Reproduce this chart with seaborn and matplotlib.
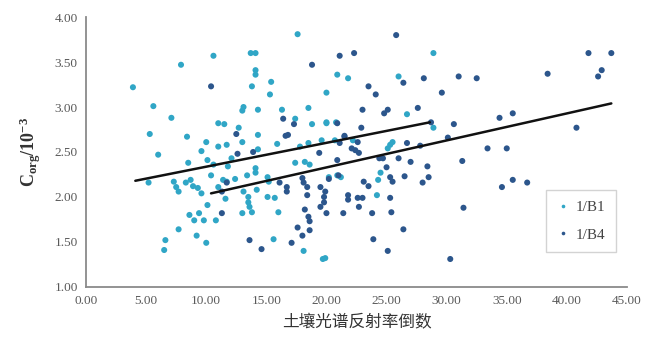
import pandas as pd
import matplotlib
matplotlib.use("Agg")
import matplotlib.pyplot as plt
import seaborn as sns


# 1/B1 points (x = reciprocal reflectance, y = Corg / 10^-3)
b1_x = [3.9, 7.9, 10.6, 5.6, 7.1, 5.3, 8.4, 6.0, 10.0, 9.6, 11.0, 11.5, 11.0, 11.7, 12.7,
        10.1, 10.6, 12.1, 11.8, 8.5, 5.2, 7.3, 7.5, 7.7, 8.3, 8.7, 8.9, 9.3, 9.6, 10.4,
        11.0, 11.4, 10.1, 8.6, 9.0, 9.4, 9.8, 10.8, 7.7, 9.2, 10.0, 6.6, 6.5, 13.7, 14.1,
        14.1, 14.1, 15.4, 13.8, 15.3, 17.6, 13.1, 13.0, 14.3, 16.3, 17.4, 18.5, 18.8, 20.0,
        14.3, 13.0, 15.9, 18.5, 19.6, 22.2, 14.3, 17.8, 17.4, 18.2, 18.6, 11.7, 12.4, 13.4,
        14.1, 14.1, 15.1, 15.2, 13.1, 13.5, 13.5, 14.2, 15.1, 15.7, 11.6, 13.0, 13.6, 13.8,
        16.0, 15.6, 18.1, 19.9, 20.9, 21.8, 20.0, 26.0, 26.7, 20.0, 20.8, 28.9, 28.9, 20.7,
        25.3, 25.5, 25.1, 20.9, 21.2, 20.2, 24.5, 24.3, 24.2, 19.7]
b1_y = [3.22, 3.47, 3.57, 3.01, 2.88, 2.70, 2.67, 2.47, 2.61, 2.51, 2.82, 2.81, 2.56, 2.58, 2.77,
        2.41, 2.36, 2.43, 2.34, 2.38, 2.16, 2.17, 2.11, 2.06, 2.16, 2.19, 2.12, 2.10, 2.04, 2.24,
        2.11, 2.19, 1.91, 1.80, 1.74, 1.82, 1.74, 1.74, 1.64, 1.57, 1.49, 1.52, 1.41, 3.60, 3.60,
        3.41, 3.36, 3.28, 3.23, 3.14, 3.81, 3.00, 2.96, 2.97, 2.97, 2.87, 2.99, 2.81, 2.82,
        2.69, 2.61, 2.59, 2.60, 2.63, 2.63, 2.53, 2.56, 2.38, 2.39, 2.36, 2.17, 2.20, 2.24,
        2.32, 2.27, 2.22, 2.17, 2.06, 2.00, 1.94, 2.08, 2.00, 1.99, 1.98, 1.82, 1.89, 1.83,
        1.83, 1.53, 1.40, 1.32, 3.36, 3.32, 3.16, 3.34, 2.92, 2.83, 2.83, 3.60, 2.77, 2.63,
        2.58, 2.61, 2.54, 2.24, 2.22, 2.22, 2.27, 2.19, 2.02, 1.31]

# 1/B4 points
b4_x = [10.4, 25.8, 18.8, 21.1, 22.3, 16.4, 17.3, 20.9, 12.5, 16.6, 16.8, 21.5, 21.1, 13.9, 12.6,
        20.9, 19.4, 16.1, 16.7, 16.7, 18.0, 18.1, 18.4, 18.4, 19.5, 19.9, 20.2, 21.0, 21.8, 21.8,
        22.6, 11.3, 11.3, 18.2, 19.5, 20.0, 18.5, 18.6, 21.4, 17.6, 18.6, 18.0, 13.6, 17.1, 14.6,
        11.7, 31.0, 32.5, 38.4, 41.8, 43.7, 42.9, 42.6, 26.4, 28.1, 23.5, 24.1, 29.6, 23.0, 24.8,
        25.1, 27.6, 34.4, 35.5, 22.9, 28.7, 30.6, 40.8, 21.5, 22.6, 26.7, 27.8, 30.1, 33.4, 35.0,
        22.1, 22.4, 22.7, 24.4, 24.7, 26.0, 27.0, 28.4, 31.3, 25.0, 23.1, 23.5, 25.3, 25.5, 26.5,
        28.5, 28.0, 34.6, 35.5, 36.7, 19.8, 19.8, 23.0, 25.3, 22.7, 23.8, 25.4, 31.4, 26.4, 23.9,
        25.1, 30.3]
b4_y = [3.23, 3.80, 3.47, 3.57, 3.60, 2.87, 2.81, 2.82, 2.70, 2.68, 2.69, 2.68, 2.60, 2.50, 2.48,
        2.41, 2.49, 2.16, 2.11, 2.06, 2.21, 2.16, 2.11, 2.02, 2.11, 2.06, 2.20, 2.24, 2.02, 1.97,
        1.99, 2.06, 1.82, 1.86, 1.89, 1.82, 1.78, 1.73, 1.82, 1.66, 1.63, 1.57, 1.52, 1.49, 1.42,
        2.16, 3.34, 3.32, 3.37, 3.60, 3.60, 3.41, 3.34, 3.27, 3.32, 3.23, 3.14, 3.16, 2.97, 2.93,
        2.97, 2.99, 2.88, 2.93, 2.77, 2.83, 2.81, 2.77, 2.67, 2.61, 2.60, 2.57, 2.66, 2.54, 2.54,
        2.54, 2.52, 2.49, 2.43, 2.43, 2.43, 2.39, 2.34, 2.40, 2.33, 2.17, 2.12, 2.22, 2.17, 2.23,
        2.22, 2.16, 2.11, 2.19, 2.16, 2.00, 1.94, 1.99, 1.99, 1.89, 1.82, 1.83, 1.88, 1.64, 1.53,
        1.40, 1.31]

# trend line end points
trend_b1_x = [4.1, 28.6]
trend_b1_y = [2.18, 2.83]
trend_b4_x = [10.4, 43.7]
trend_b4_y = [2.04, 3.04]

x_ticks = [0, 5, 10, 15, 20, 25, 30, 35, 40, 45]
y_ticks = [1.0, 1.5, 2.0, 2.5, 3.0, 3.5, 4.0]

sns.set_style("white")
plt.rcParams["font.family"] = ["Liberation Serif", "Noto Sans CJK SC"]
plt.rcParams["mathtext.fontset"] = "custom"
plt.rcParams["mathtext.rm"] = "Liberation Serif"
plt.rcParams["mathtext.bf"] = "Liberation Serif:bold"

df = pd.concat([
    pd.DataFrame({"x": b1_x, "y": b1_y, "series": "1/B1"}),
    pd.DataFrame({"x": b4_x, "y": b4_y, "series": "1/B4"}),
])
palette = {"1/B1": "#30a6c6", "1/B4": "#2c568c"}

fig = plt.figure(figsize=(6.47, 3.49), dpi=100)
ax = fig.add_axes([0.133, 0.178, 0.836, 0.773])

sns.scatterplot(data=df, x="x", y="y", hue="series", palette=palette,
                s=19, linewidth=0, ax=ax)

sns.lineplot(x=trend_b1_x, y=trend_b1_y, color="#111111", linewidth=1.8, ax=ax, legend=False)
sns.lineplot(x=trend_b4_x, y=trend_b4_y, color="#111111", linewidth=1.8, ax=ax, legend=False)

ax.set_xlim(0, 45)
ax.set_ylim(1, 4)
ax.set_xticks(x_ticks)
ax.set_xticklabels(["%.2f" % v for v in x_ticks])
ax.set_yticks(y_ticks)
ax.set_yticklabels(["%.2f" % v for v in y_ticks])
ax.tick_params(length=0, labelsize=9.5, labelcolor="#595959", pad=6)

for side in ["top", "right"]:
    ax.spines[side].set_visible(False)
for side in ["left", "bottom"]:
    ax.spines[side].set_color("#8a8a8a")
    ax.spines[side].set_linewidth(1.3)

ax.set_xlabel("土壤光谱反射率倒数", fontsize=12, color="#333333", labelpad=6)
ax.set_ylabel(r"$\mathbf{C_{org}/10^{-3}}$", fontsize=13, color="#333333", labelpad=8)

leg = ax.legend(loc="lower right", bbox_to_anchor=(0.993, 0.10), frameon=True,
                fancybox=False, edgecolor="#c8c8c8", fontsize=11, markerscale=0.6,
                handlelength=0.8, handletextpad=0.4, borderpad=0.7, labelspacing=0.9)
for t in leg.get_texts():
    t.set_color("#444444")

fig.savefig("out.png", dpi=100)
